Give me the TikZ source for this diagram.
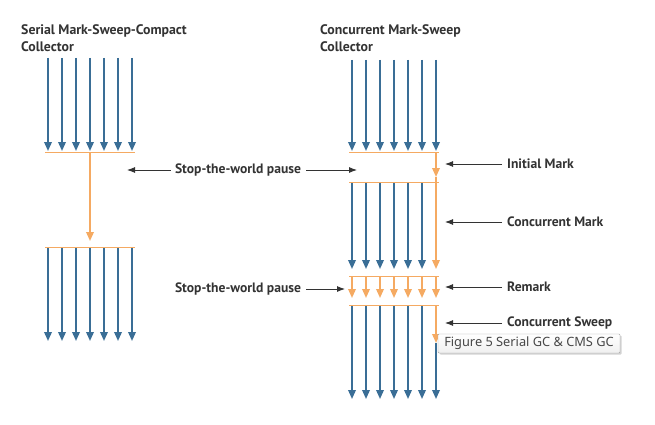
\documentclass[tikz,border=0pt]{standalone}
\usepackage{fontspec}
\setmainfont{PT Sans}
\newfontfamily\capfont{Noto Sans}
\usetikzlibrary{arrows.meta,shadows}
\definecolor{gcblue}{HTML}{3A6E96}
\definecolor{gcorange}{HTML}{F5AA62}
\definecolor{gctext}{HTML}{333333}
\tikzset{
  lane/.style={draw=gcblue,line width=1.8pt,-{Triangle[width=7.5pt,length=9pt]}},
  olane/.style={draw=gcorange,line width=1.8pt,-{Triangle[width=7.5pt,length=9pt]}},
  bar/.style={draw=gcorange,line width=0.9pt},
  pointer/.style={draw=gctext,line width=0.9pt,-{Latex[width=6pt,length=8pt]}},
  lbl/.style={font=\bfseries\fontsize{13.6}{15}\selectfont,text=gctext,inner sep=0pt},
  ttl/.style={font=\bfseries\fontsize{13.8}{17}\selectfont,text=gctext,inner sep=0pt,align=left,anchor=north west},
}
\begin{document}
\begin{tikzpicture}[x=1pt,y=-1pt]
\useasboundingbox[fill=white] (0,0) rectangle (655,425);
% titles
\node[ttl] (t1) at (21,24) {Serial Mark-Sweep-Compact\\Collector};
\node[ttl] (t2) at (320,24) {Concurrent Mark-Sweep\\Collector};
% ---------- left column ----------
\foreach \k in {0,...,6}{
  \coordinate (la\k) at ({48+14*\k},58);
  \coordinate (lb\k) at ({48+14*\k},151);
  \coordinate (lc\k) at ({48+14*\k},247);
  \coordinate (ld\k) at ({48+14*\k},341);
  \draw[lane] (la\k) -- (lb\k);
  \draw[lane] (lc\k) -- (ld\k);
}
\coordinate (lbarAw) at (45,152); \coordinate (lbarAe) at (135,152);
\coordinate (lbarBw) at (45,247); \coordinate (lbarBe) at (135,247);
\draw[bar] (lbarAw) -- (lbarAe);
\draw[bar] (lbarBw) -- (lbarBe);
\coordinate (lo1) at (90,152); \coordinate (lo2) at (90,241);
\draw[olane] (lo1) -- (lo2);
% ---------- right column ----------
\foreach \k in {0,...,6}{
  \coordinate (ra\k) at ({352+14*\k},60);
  \coordinate (rb\k) at ({352+14*\k},151);
  \coordinate (rc\k) at ({352+14*\k},276);
  \coordinate (rd\k) at ({352+14*\k},298);
  \draw[lane] (ra\k) -- (rb\k);
  \draw[olane] (rc\k) -- (rd\k);
}
\foreach \k in {0,...,5}{
  \coordinate (re\k) at ({352+14*\k},182);
  \coordinate (rf\k) at ({352+14*\k},269);
  \coordinate (rg\k) at ({352+14*\k},305);
  \coordinate (rh\k) at ({352+14*\k},399);
  \draw[lane] (re\k) -- (rf\k);
  \draw[lane] (rg\k) -- (rh\k);
}
\foreach \y/\n in {152/A,182/B,276/C,305/D}{
  \coordinate (rbar\n w) at (349,\y); \coordinate (rbar\n e) at (439,\y);
  \draw[bar] (rbar\n w) -- (rbar\n e);
}
\coordinate (ro1) at (436,152);
\coordinate (ro2) at (436,177);
\coordinate (ro3) at (436,269);
\coordinate (ro4) at (436,305);
\coordinate (ro5) at (436,343);
\coordinate (ro6) at (436,399);
\draw[olane] (ro1) -- (ro2);
\draw[olane] (ro2) -- (ro3);
\draw[olane] (ro4) -- (ro5);
\draw[lane] (ro5) -- (ro6);
% ---------- labels ----------
\node[lbl] (stw1) at (238,170) {Stop-the-world pause};
\coordinate (stw1l) at (127,170); \coordinate (stw1r) at (357,170);
\draw[pointer] (stw1.west) ++(-4,0) -- (stw1l);
\draw[pointer] (stw1.east) ++(5,0) -- (stw1r);
\node[lbl] (stw2) at (238,289) {Stop-the-world pause};
\coordinate (stw2r) at (345,289);
\draw[pointer] (stw2.east) ++(5,0) -- (stw2r);
\foreach \y/\t/\n in {164/Initial Mark/im,222/Concurrent Mark/cm,287/Remark/rm,323/Concurrent Sweep/cs}{
  \node[lbl,anchor=west] (\n) at (507,\y) {\t};
  \coordinate (\n p) at (445,\y);
  \draw[pointer] (\n.west) ++(-5,0) -- (\n p);
}
% caption
\node[draw=gray!70,rounded corners=1pt,top color=white,bottom color=gray!12,
      drop shadow={shadow xshift=1.5pt,shadow yshift=-1.5pt,opacity=0.35},
      minimum width=182pt,minimum height=19pt,inner sep=0pt,
      font=\capfont\fontsize{12.8}{14}\selectfont,text=gctext!90] (cap) at (529,343.5) {Figure 5 Serial GC \& CMS GC};
\end{tikzpicture}
\end{document}
